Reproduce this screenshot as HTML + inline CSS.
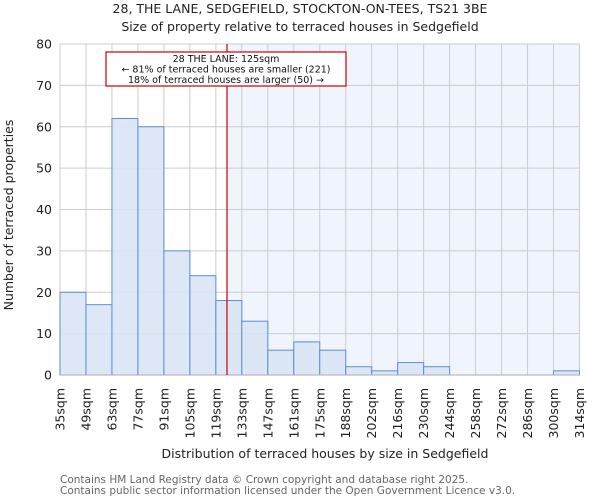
<!DOCTYPE html>
<html><head><meta charset="utf-8"><style>
body{margin:0;background:#fff;font-family:"DejaVu Sans","Liberation Sans",sans-serif}
</style></head><body>
<svg id="c" width="600" height="500" xmlns="http://www.w3.org/2000/svg" font-family="DejaVu Sans, Liberation Sans, sans-serif">
<text x="300" y="13" text-anchor="middle" font-size="12.5" fill="#222">28, THE LANE, SEDGEFIELD, STOCKTON-ON-TEES, TS21 3BE</text>
<text x="300" y="31" text-anchor="middle" font-size="12.5" fill="#222">Size of property relative to terraced houses in Sedgefield</text>
<g id="plot"></g>
<text x="325" y="458" text-anchor="middle" font-size="12.5" fill="#222">Distribution of terraced houses by size in Sedgefield</text>
<text transform="translate(13,215) rotate(-90)" text-anchor="middle" font-size="12.5" fill="#222">Number of terraced properties</text>
<text x="60" y="483" font-size="10.5" fill="#666">Contains HM Land Registry data © Crown copyright and database right 2025.</text>
<text x="60" y="494" font-size="10.5" fill="#666">Contains public sector information licensed under the Open Government Licence v3.0.</text>
</svg>
<script>
const binEdges=[35,49,63,77,91,105,119,133,147,161,175,188,202,216,230,244,258,272,286,300,314];
const counts=[20,17,62,60,30,24,18,13,6,8,6,2,1,3,2,0,0,0,0,1];
const yTicks=[0,10,20,30,40,50,60,70,80];
const propertySize=125;
const ns="http://www.w3.org/2000/svg";
const X0=60,X1=579.5,Y0=375,Y1=44,YMAX=80;
const xi=i=>X0+i*(X1-X0)/counts.length;
const xv=v=>{for(let i=0;i<binEdges.length-1;i++){if(v<=binEdges[i+1])return xi(i)+(v-binEdges[i])/(binEdges[i+1]-binEdges[i])*(xi(i+1)-xi(i));}return X1;};
const y=v=>Y0-v/YMAX*(Y0-Y1);
const g=document.getElementById('plot');
function mk(t,a){const e=document.createElementNS(ns,t);for(const k in a)e.setAttribute(k,a[k]);g.appendChild(e);return e;}
const rx=xv(propertySize);
let e=mk('rect',{x:rx,y:Y1,width:X1-rx,height:Y0-Y1,fill:'#f0f4fc'});


yTicks.forEach(t=>{
 let l=mk('line',{x1:X0,x2:X1,y1:y(t),y2:y(t),stroke:'#cccccc','stroke-width':1});
 
 
 let tx=mk('text',{x:X0-8,y:y(t)+4.5,'text-anchor':'end','font-size':12.5,fill:'#222'});tx.textContent=t;
 
 
});
binEdges.forEach((b,i)=>{
 let l=mk('line',{x1:xi(i),x2:xi(i),y1:Y1,y2:Y0,stroke:'#cccccc','stroke-width':1});
 
 
 let tx=mk('text',{transform:`translate(${xi(i)+4.5},${Y0+13}) rotate(-90)`,'text-anchor':'end','font-size':12.5,fill:'#222'});tx.textContent=b+'sqm';
 
 
});
counts.forEach((c,i)=>{
 let r=mk('rect',{x:xi(i),y:y(c),width:xi(i+1)-xi(i),height:Y0-y(c),fill:'#dae4f4','fill-opacity':0.9,stroke:'#5b8fd9','stroke-width':1});
 
 
});
let ax=mk('line',{x1:X0,x2:X1,y1:Y0,y2:Y0,stroke:'#aab',ratio:1});


let rl=mk('line',{x1:rx,x2:rx,y1:Y1,y2:Y0,stroke:'#cc0000','stroke-width':1.2});


let bx=mk('rect',{x:106,y:52,width:240,height:34,fill:'#fff',stroke:'#cc0000','stroke-width':1.2});


['28 THE LANE: 125sqm','← 81% of terraced houses are smaller (221)','18% of terraced houses are larger (50) →'].forEach((s,i)=>{
 let t=mk('text',{x:226,y:62+i*10.5,'text-anchor':'middle','font-size':9.5,fill:'#111'});t.textContent=s;
 
 
});
</script>
</body></html>
